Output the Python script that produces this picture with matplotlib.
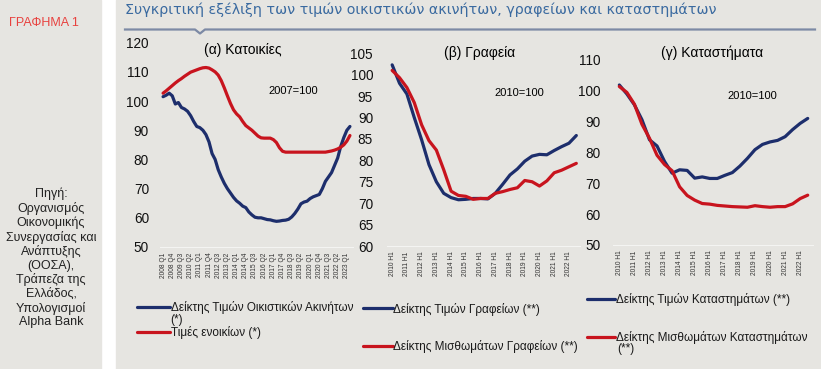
import matplotlib.pyplot as plt
from matplotlib.lines import Line2D

plt.rcParams['font.family'] = ['Liberation Sans', 'DejaVu Sans']

# --- data ---
# (α) quarterly, 2008 Q1 .. 2023 Q2
quarters = [f"{y} Q{q}" for y in range(2008, 2024) for q in range(1, 5)][:62]
house_price = [101.5, 102.0, 102.7, 101.8, 99.0, 99.5, 97.8, 97.3, 96.5, 95.0,
               93.0, 91.3, 90.9, 90.0, 88.5, 86.0, 82.0, 80.0, 76.5, 74.0,
               71.8, 70.0, 68.5, 67.0, 65.8, 65.0, 64.0, 63.5, 62.0, 61.0,
               60.2, 60.0, 60.0, 59.7, 59.4, 59.3, 59.0, 58.8, 58.9, 59.1,
               59.2, 59.5, 60.3, 61.5, 63.0, 64.8, 65.4, 65.7, 66.6, 67.2,
               67.6, 68.0, 70.0, 72.5, 74.0, 75.5, 78.0, 80.5, 84.5, 87.5,
               90.0, 91.3]
house_rent = [102.7, 103.5, 104.4, 105.3, 106.2, 107.0, 107.7, 108.5, 109.2, 109.9,
              110.3, 110.7, 111.1, 111.4, 111.5, 111.3, 110.7, 110.0, 108.9, 107.0,
              104.5, 101.8, 99.2, 97.0, 95.6, 94.6, 93.0, 91.6, 90.8, 90.0,
              89.0, 88.0, 87.4, 87.3, 87.3, 87.3, 86.8, 85.8, 84.0, 82.8,
              82.5, 82.5, 82.5, 82.5, 82.5, 82.5, 82.5, 82.5, 82.5, 82.5,
              82.5, 82.5, 82.5, 82.5, 82.7, 82.9, 83.2, 83.6, 84.2, 85.0,
              86.3, 88.2]

# (β), (γ) semi-annual, 2010 H1 .. 2022 H2
halves = [f"{y} H{h}" for y in range(2010, 2023) for h in (1, 2)]
office_price = [102.3, 98.0, 95.5, 90.0, 84.8, 79.0, 75.0, 72.3, 71.3, 70.8,
                70.9, 71.1, 71.1, 71.0, 72.3, 74.4, 76.6, 78.0, 79.8, 81.0,
                81.4, 81.3, 82.3, 83.2, 84.0, 85.8]
office_rent = [101.0, 99.3, 97.0, 93.5, 88.3, 84.6, 82.4, 77.8, 72.8, 71.8,
               71.6, 70.9, 71.1, 71.1, 72.3, 72.7, 73.2, 73.6, 75.3, 75.0,
               74.0, 75.2, 77.1, 77.7, 78.5, 79.3]
shop_price = [101.7, 98.8, 95.3, 90.5, 84.0, 82.0, 77.0, 73.2, 74.3, 74.1,
              71.6, 72.0, 71.5, 71.5, 72.5, 73.4, 75.5, 78.0, 80.8, 82.5,
              83.3, 83.8, 85.0, 87.3, 89.3, 90.9]
shop_rent = [101.2, 99.3, 95.5, 89.0, 84.5, 79.0, 76.0, 74.0, 68.8, 66.0,
             64.5, 63.4, 63.2, 62.8, 62.6, 62.4, 62.3, 62.2, 62.7, 62.4,
             62.2, 62.4, 62.4, 63.3, 65.0, 66.1]

BLUE = '#1d2e6c'
RED = '#c8141e'
BG = '#e6e5e1'
W, H = 821, 369

fig = plt.figure(figsize=(W / 100, H / 100), dpi=100, facecolor='white')

def fx(px):
    return px / W

def fy(py):
    return 1 - py / H

# grey panels
fig.patches.append(plt.Rectangle((0, 0), fx(101), 1, transform=fig.transFigure,
                                 color=BG, zorder=-10))
fig.patches.append(plt.Rectangle((fx(116), 0), 1 - fx(116), 1, transform=fig.transFigure,
                                 color=BG, zorder=-10))

fig.text(fx(44), fy(23), 'ΓΡΑΦΗΜΑ 1', color='#e8423f', fontsize=9,
         ha='center', va='center')
fig.text(fx(51), fy(258), 'Πηγή:\nΟργανισμός\nΟικονομικής\nΣυνεργασίας και\nΑνάπτυξης\n(ΟΟΣΑ),\n'
         'Τράπεζα της\nΕλλάδος,\nΥπολογισμοί\nAlpha Bank',
         ha='center', va='center', fontsize=9, linespacing=1.16, color='#222222')

fig.text(fx(125), fy(10), 'Συγκριτική εξέλιξη των τιμών οικιστικών ακινήτων, γραφείων και καταστημάτων',
         color='#3a6aa0', fontsize=10.3, ha='left', va='center', family='DejaVu Sans')
fig.lines.append(Line2D([fx(125), fx(195), fx(200), fx(205), fx(815)],
                        [fy(29.5), fy(29.5), fy(33.5), fy(29.5), fy(29.5)],
                        transform=fig.transFigure, color='#7d8aa5', lw=1.6))


def make_axes(left, right, top, bottom):
    ax = fig.add_axes([fx(left), fy(bottom), fx(right - left), (bottom - top) / H])
    ax.set_facecolor('none')
    for s in ('left', 'right', 'top'):
        ax.spines[s].set_visible(False)
    ax.spines['bottom'].set_color('#f4f4f2')
    ax.spines['bottom'].set_linewidth(0.8)
    ax.tick_params(axis='both', length=0)
    ax.tick_params(axis='y', labelsize=9.8, colors='#111111')
    ax.tick_params(axis='x', labelsize=4.8, labelcolor='#333333', rotation=90, pad=4)
    return ax


def add_legend(ax, lines, labels, x, y, spacing, hl):
    leg = ax.legend(lines, labels, loc='upper left', bbox_to_anchor=(fx(x), fy(y)),
                    bbox_transform=fig.transFigure, frameon=False, fontsize=8.5,
                    handlelength=hl, handletextpad=0.05, borderpad=0, borderaxespad=0,
                    labelspacing=spacing)
    for t in leg.get_texts():
        t.set_color('#1a1a1a')


# (α) Κατοικίες
ax1 = make_axes(160, 353, 42.7, 247)
l1, = ax1.plot(range(len(house_price)), house_price, color=BLUE, lw=2.3, solid_capstyle='round')
l2, = ax1.plot(range(len(house_rent)), house_rent, color=RED, lw=2.3, solid_capstyle='round')
ax1.set_ylim(50, 120)
ax1.set_yticks(range(50, 121, 10))
ax1.set_xlim(-1, 62)
ax1.set_xticks(range(0, 61, 3))
ax1.set_xticklabels(quarters[0:61:3])
ax1.tick_params(axis='y', pad=8)
ax1.text(0.43, 0.964, '(α) Κατοικίες', transform=ax1.transAxes, ha='center', va='center', fontsize=10)
ax1.text(0.688, 0.764, '2007=100', transform=ax1.transAxes, ha='center', va='center', fontsize=8)
add_legend(ax1, [l1, l2], ['Δείκτης Τιμών Οικιστικών Ακινήτων', 'Τιμές ενοικίων (*)'],
           137, 301.5, 0.95, 2.8)
fig.text(fx(170.5), fy(319.5), '(*)', fontsize=8.5, ha='left', va='center', color='#1a1a1a')

# (β) Γραφεία
ax2 = make_axes(387, 580, 53.3, 246)
l3, = ax2.plot(range(len(office_price)), office_price, color=BLUE, lw=2.3, solid_capstyle='round')
l4, = ax2.plot(range(len(office_rent)), office_rent, color=RED, lw=2.3, solid_capstyle='round')
ax2.set_ylim(60, 105)
ax2.set_yticks(range(60, 106, 5))
ax2.set_xlim(-0.7, 25.5)
ax2.set_xticks(range(0, 25, 2))
ax2.set_xticklabels(halves[0:25:2])
ax2.tick_params(axis='y', pad=10)
ax2.text(0.482, 1.003, '(β) Γραφεία', transform=ax2.transAxes, ha='center', va='center', fontsize=10)
ax2.text(0.686, 0.792, '2010=100', transform=ax2.transAxes, ha='center', va='center', fontsize=8)
add_legend(ax2, [l3, l4], ['Δείκτης Τιμών Γραφείων (**)', 'Δείκτης Μισθωμάτων Γραφείων (**)'],
           363, 302.5, 2.1, 2.5)

# (γ) Καταστήματα
ax3 = make_axes(613, 813, 59.3, 245)
l5, = ax3.plot(range(len(shop_price)), shop_price, color=BLUE, lw=2.3, solid_capstyle='round')
l6, = ax3.plot(range(len(shop_rent)), shop_rent, color=RED, lw=2.3, solid_capstyle='round')
ax3.set_ylim(50, 110)
ax3.set_yticks(range(50, 111, 10))
ax3.set_xlim(-0.84, 25.7)
ax3.set_xticks(range(0, 25, 2))
ax3.set_xticklabels(halves[0:25:2])
ax3.tick_params(axis='y', pad=9)
ax3.text(0.493, 1.036, '(γ) Καταστήματα', transform=ax3.transAxes, ha='center', va='center', fontsize=10)
ax3.text(0.697, 0.802, '2010=100', transform=ax3.transAxes, ha='center', va='center', fontsize=8)
add_legend(ax3, [l5, l6], ['Δείκτης Τιμών Καταστημάτων (**)', 'Δείκτης Μισθωμάτων Καταστημάτων'],
           587, 293.5, 2.05, 2.4)
fig.text(fx(617), fy(349), '(**)', fontsize=8.5, ha='left', va='center', color='#1a1a1a')

fig.savefig('out.png', dpi=100, facecolor=fig.get_facecolor())
